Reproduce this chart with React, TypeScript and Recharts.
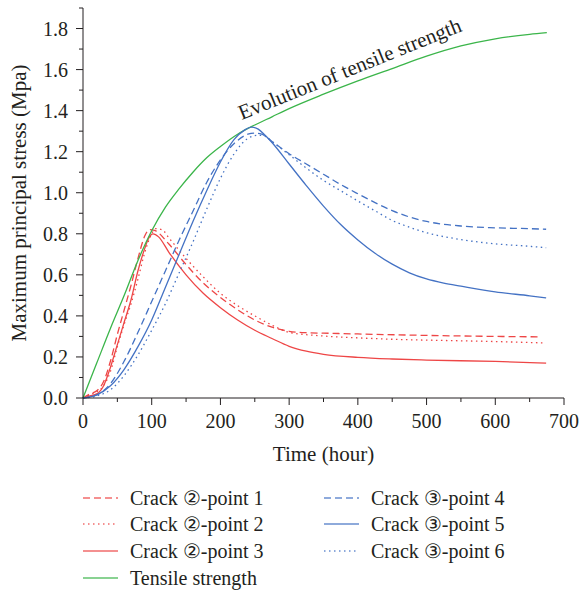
import { LineChart, Line, XAxis, YAxis, ReferenceDot } from "recharts";

const FONT = "'Liberation Serif', 'DejaVu Serif', 'Times New Roman', serif";
const INK = "#231f20";
const RED = "#ee4646";
const BLUE = "#4472c4";
const GREEN = "#3bb54a";

const txt = (size: number) => ({ fontFamily: FONT, fontSize: size, fill: INK });

// Crack 2 - point 1 (dashed red)
const p1Hours = [0, 10, 20, 30, 40, 50, 60, 70, 80, 90, 97, 105, 125, 150, 175, 200, 225, 250, 275, 300, 325, 350, 400, 500, 600, 664];
const p1Values = [0, 0.02, 0.035, 0.08, 0.18, 0.31, 0.43, 0.55, 0.68, 0.79, 0.82, 0.815, 0.75, 0.65, 0.56, 0.49, 0.43, 0.38, 0.345, 0.325, 0.318, 0.316, 0.312, 0.305, 0.3, 0.298];

// Crack 2 - point 2 (dotted red)
const p2Hours = [0, 10, 20, 30, 40, 50, 60, 70, 80, 90, 100, 106, 115, 125, 150, 175, 200, 225, 250, 275, 300, 350, 400, 461, 500, 600, 672];
const p2Values = [0, 0.015, 0.03, 0.06, 0.13, 0.25, 0.36, 0.46, 0.58, 0.71, 0.8, 0.825, 0.82, 0.78, 0.68, 0.59, 0.51, 0.45, 0.4, 0.355, 0.32, 0.302, 0.293, 0.285, 0.282, 0.275, 0.268];

// Crack 2 - point 3 (solid red)
const p3Hours = [0, 10, 20, 30, 40, 50, 60, 70, 80, 90, 95, 102, 110, 125, 150, 175, 200, 225, 250, 275, 300, 325, 350, 400, 450, 500, 600, 674];
const p3Values = [0, 0.01, 0.02, 0.06, 0.15, 0.26, 0.37, 0.48, 0.62, 0.73, 0.775, 0.8, 0.785, 0.71, 0.6, 0.51, 0.44, 0.38, 0.33, 0.29, 0.252, 0.228, 0.213, 0.198, 0.19, 0.185, 0.178, 0.17];

// Crack 3 - point 4 (dashed blue)
const p4Hours = [0, 20, 40, 60, 80, 100, 120, 140, 160, 180, 200, 220, 240, 250, 260, 275, 300, 325, 350, 375, 400, 425, 450, 475, 500, 550, 600, 650, 674];
const p4Values = [0, 0.015, 0.07, 0.18, 0.32, 0.47, 0.62, 0.77, 0.91, 1.05, 1.16, 1.24, 1.285, 1.29, 1.285, 1.25, 1.19, 1.14, 1.09, 1.04, 0.995, 0.952, 0.913, 0.882, 0.86, 0.838, 0.829, 0.825, 0.822];

// Crack 3 - point 5 (solid blue)
const p5Hours = [0, 20, 40, 60, 80, 100, 120, 140, 160, 180, 200, 220, 235, 245, 255, 265, 275, 300, 325, 350, 375, 400, 425, 450, 475, 500, 525, 550, 600, 650, 674];
const p5Values = [0, 0.015, 0.06, 0.14, 0.25, 0.38, 0.54, 0.7, 0.86, 1.01, 1.15, 1.26, 1.305, 1.32, 1.31, 1.28, 1.245, 1.14, 1.035, 0.935, 0.845, 0.77, 0.705, 0.652, 0.61, 0.58, 0.56, 0.545, 0.517, 0.498, 0.488];

// Crack 3 - point 6 (dotted blue)
const p6Hours = [0, 20, 40, 60, 80, 100, 120, 140, 160, 180, 200, 220, 240, 255, 265, 275, 300, 325, 350, 375, 400, 425, 450, 475, 500, 550, 600, 650, 674];
const p6Values = [0, 0.01, 0.04, 0.11, 0.21, 0.33, 0.46, 0.61, 0.76, 0.92, 1.07, 1.19, 1.265, 1.28, 1.275, 1.25, 1.185, 1.12, 1.06, 1.01, 0.96, 0.912, 0.865, 0.832, 0.805, 0.772, 0.751, 0.739, 0.732];

// Tensile strength (green)
const tensileHours = [0, 20, 40, 60, 80, 100, 120, 140, 160, 180, 200, 225, 250, 275, 300, 350, 400, 450, 500, 550, 600, 650, 675];
const tensileValues = [0, 0.17, 0.34, 0.5, 0.67, 0.815, 0.93, 1.02, 1.1, 1.17, 1.225, 1.285, 1.33, 1.37, 1.41, 1.48, 1.545, 1.605, 1.665, 1.715, 1.75, 1.772, 1.78];

const xTicks = [0, 50, 100, 150, 200, 250, 300, 350, 400, 450, 500, 550, 600, 650, 700];
const yTicks = [0, 0.1, 0.2, 0.3, 0.4, 0.5, 0.6, 0.7, 0.8, 0.9, 1.0, 1.1, 1.2, 1.3, 1.4, 1.5, 1.6, 1.7, 1.8, 1.9];

const toPoints = (hours: number[], values: number[]) =>
  hours.map((t, i) => ({ t, v: values[i] }));

const series = [
  { key: "p1", name: "Crack \u2461-point 1", data: toPoints(p1Hours, p1Values), color: RED, dash: "7 4" },
  { key: "p2", name: "Crack \u2461-point 2", data: toPoints(p2Hours, p2Values), color: RED, dash: "1.5 3.5" },
  { key: "p3", name: "Crack \u2461-point 3", data: toPoints(p3Hours, p3Values), color: RED, dash: undefined },
  { key: "ts", name: "Tensile strength", data: toPoints(tensileHours, tensileValues), color: GREEN, dash: undefined },
  { key: "p4", name: "Crack \u2462-point 4", data: toPoints(p4Hours, p4Values), color: BLUE, dash: "7 4" },
  { key: "p5", name: "Crack \u2462-point 5", data: toPoints(p5Hours, p5Values), color: BLUE, dash: undefined },
  { key: "p6", name: "Crack \u2462-point 6", data: toPoints(p6Hours, p6Values), color: BLUE, dash: "1.5 3.5" },
];

function XTick({ x, y, payload }: any) {
  const major = payload.value % 100 === 0;
  return (
    <g>
      <line x1={x} x2={x} y1={y} y2={y + (major ? 7 : 4)} stroke={INK} strokeWidth={1} />
      {major && (
        <text x={x} y={y + 30} textAnchor="middle" style={txt(20)}>
          {payload.value}
        </text>
      )}
    </g>
  );
}

function YTick({ x, y, payload }: any) {
  const major = Math.round(payload.value * 10) % 2 === 0;
  return (
    <g>
      <line x1={x} x2={x - (major ? 7 : 4)} y1={y} y2={y} stroke={INK} strokeWidth={1} />
      {major && (
        <text x={x - 15} y={y} dy="0.35em" textAnchor="end" style={txt(20)}>
          {payload.value.toFixed(1)}
        </text>
      )}
    </g>
  );
}

function XTitle(props: any) {
  const vb = props.viewBox || { x: 83, y: 398, width: 481, height: 72 };
  return (
    <text x={vb.x + vb.width / 2} y={vb.y + 63} textAnchor="middle" style={txt(21)}>
      Time (hour)
    </text>
  );
}

function YTitle(props: any) {
  const vb = props.viewBox || { x: 0, y: 8, width: 83, height: 390 };
  const cx = vb.x + 26;
  const cy = vb.y + vb.height / 2;
  return (
    <text x={cx} y={cy} transform={`rotate(-90 ${cx} ${cy})`} textAnchor="middle" style={txt(21)}>
      Maximum principal stress (Mpa)
    </text>
  );
}

function Annotation(props: any) {
  const { cx, cy } = props;
  return (
    <text x={cx} y={cy} transform={`rotate(-22 ${cx} ${cy})`} style={txt(21)}>
      Evolution of tensile strength
    </text>
  );
}

function LegendBlock() {
  const left = ["p1", "p2", "p3", "ts"];
  const right = ["p4", "p5", "p6"];
  const rowY = [28, 54, 81, 108];
  const item = (key: string, row: number, x0: number) => {
    const s = series.find((d) => d.key === key)!;
    const y = rowY[row];
    return (
      <g key={key}>
        <line x1={x0} x2={x0 + 35} y1={y} y2={y} stroke={s.color} strokeOpacity={0.8} strokeWidth={1.4} strokeDasharray={s.dash} />
        <text x={x0 + 47} y={y} dy="0.35em" style={txt(20)}>
          {s.name}
        </text>
      </g>
    );
  };
  return (
    <svg width={585} height={122} style={{ position: "absolute", left: 0, top: 470 }}>
      {left.map((k, i) => item(k, i, 83))}
      {right.map((k, i) => item(k, i, 324))}
    </svg>
  );
}

export default function App() {
  return (
    <div style={{ position: "absolute", left: 0, top: 0, width: 585, height: 592, background: "#fff" }}>
      <LineChart width={585} height={470} margin={{ top: 8, right: 21, bottom: 0, left: 0 }}>
        <XAxis
          type="number"
          dataKey="t"
          domain={[0, 700]}
          ticks={xTicks}
          interval={0}
          tickSize={0}
          tickMargin={0}
          tick={<XTick />}
          axisLine={{ stroke: INK }}
          height={72}
          allowDuplicatedCategory={false}
          label={<XTitle />}
        />
        <YAxis
          type="number"
          dataKey="v"
          domain={[0, 1.9]}
          ticks={yTicks}
          interval={0}
          tickSize={0}
          tickMargin={0}
          tick={<YTick />}
          axisLine={{ stroke: INK }}
          width={83}
          label={<YTitle />}
        />
        {series.map((s) => (
          <Line
            key={s.key}
            data={s.data}
            dataKey="v"
            name={s.name}
            type="monotone"
            stroke={s.color}
            strokeWidth={1.3}
            strokeDasharray={s.dash}
            dot={false}
            activeDot={false}
            isAnimationActive={false}
          />
        ))}
        <ReferenceDot x={231} y={1.354} r={0} shape={(p: any) => <Annotation {...p} />} />
      </LineChart>
      <LegendBlock />
    </div>
  );
}
